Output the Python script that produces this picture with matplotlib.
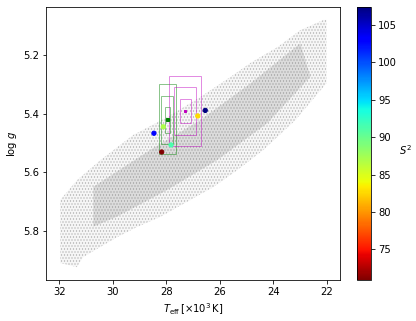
#!/usr/bin/env python3
"""
Teff - log g diagram: model grid cloud, fit boxes and S^2 coloured solutions.
"""

import numpy as np
import matplotlib
matplotlib.use('Agg')
import matplotlib.pyplot as plt
from matplotlib.patches import Polygon, Rectangle

# Outline of the model grid cloud (Teff in 10^3 K, log g)
cloud_teff = [31.97, 31.34, 30.47, 29.24, 27.96, 26.72, 25.60, 24.85, 23.84, 22.98, 22.11,
              22.00, 22.00, 23.16, 24.36, 25.34, 26.24, 27.10, 28.23, 29.09, 29.84,
              30.48, 31.11, 31.34, 31.97]
cloud_logg = [5.695, 5.627, 5.559, 5.473, 5.412, 5.343, 5.275, 5.227, 5.173, 5.115, 5.080,
              5.080, 5.296, 5.422, 5.524, 5.593, 5.651, 5.695, 5.753, 5.787, 5.822,
              5.856, 5.890, 5.924, 5.910]

# Denser core of the grid
core_teff = [30.73, 28.60, 26.72, 24.85, 22.98, 22.60, 24.22, 26.10, 27.97, 29.85, 30.73]
core_logg = [5.650, 5.524, 5.422, 5.297, 5.160, 5.274, 5.433, 5.559, 5.661, 5.752, 5.786]

# Confidence boxes: (Teff low, Teff high, logg low, logg high)
green_boxes = [(27.64, 28.26, 5.300, 5.539),
               (27.75, 28.18, 5.340, 5.502),
               (27.86, 28.06, 5.379, 5.465)]
green_center = (27.96, 5.420)

violet_boxes = [(26.70, 27.91, 5.271, 5.511),
                (26.89, 27.71, 5.310, 5.472),
                (27.09, 27.50, 5.350, 5.431)]
violet_center = (27.30, 5.390)

# Individual solutions coloured by S^2
sol_teff = [26.54, 28.46, 28.11, 27.82, 26.82, 28.17]
sol_logg = [5.389, 5.467, 5.445, 5.507, 5.408, 5.531]
sol_s2 = [107.4, 103.0, 87.0, 91.3, 82.6, 70.9]

fig = plt.figure(figsize=(416 / 72, 321 / 72), dpi=72)
ax = fig.add_axes([0.1106, 0.1277, 0.7064, 0.8505])
cax = fig.add_axes([0.858, 0.1277, 0.034, 0.8505])

# model grid cloud: light fill plus dotted hatching
plt.rcParams['hatch.linewidth'] = 0.7
cloud_xy = np.column_stack([cloud_teff, cloud_logg])
core_xy = np.column_stack([core_teff, core_logg])
ax.add_patch(Polygon(cloud_xy, closed=True, facecolor=(0.5, 0.5, 0.5, 0.07),
                     linewidth=0))
ax.add_patch(Polygon(cloud_xy, closed=True, facecolor='none',
                     edgecolor=(0.5, 0.5, 0.5, 0.6), linewidth=0, hatch='....'))
ax.add_patch(Polygon(core_xy, closed=True, facecolor=(0.4, 0.4, 0.4, 0.07),
                     linewidth=0))
ax.add_patch(Polygon(core_xy, closed=True, facecolor='none',
                     edgecolor=(0.4, 0.4, 0.4, 0.45), linewidth=0, hatch='......'))

for tlo, thi, glo, ghi in green_boxes:
    ax.add_patch(Rectangle((tlo, glo), thi - tlo, ghi - glo, fill=False,
                           edgecolor='g', alpha=0.45, linewidth=1))
for tlo, thi, glo, ghi in violet_boxes:
    ax.add_patch(Rectangle((tlo, glo), thi - tlo, ghi - glo, fill=False,
                           edgecolor='m', alpha=0.45, linewidth=1))

ax.plot(*green_center, 's', color='green', markersize=3)
ax.plot(*violet_center, 's', color='m', markersize=2)

sc = ax.scatter(sol_teff, sol_logg, c=sol_s2, cmap='jet_r', s=18, zorder=5)

ax.set_xlim(32.5, 21.5)
ax.set_ylim(5.968, 5.036)
ax.set_xticks([32, 30, 28, 26, 24, 22])
ax.set_yticks([5.2, 5.4, 5.6, 5.8])
ax.set_xlabel(r'$T_{\rm eff}\,[\times10^3\,{\rm K}]$')
ax.set_ylabel(r'$\log\,g$')

cb = fig.colorbar(sc, cax=cax)
cb.set_ticks([75, 80, 85, 90, 95, 100, 105])
cb.set_label(r'$S^2$', rotation=0, labelpad=8)

fig.savefig('out.png', dpi=72)
